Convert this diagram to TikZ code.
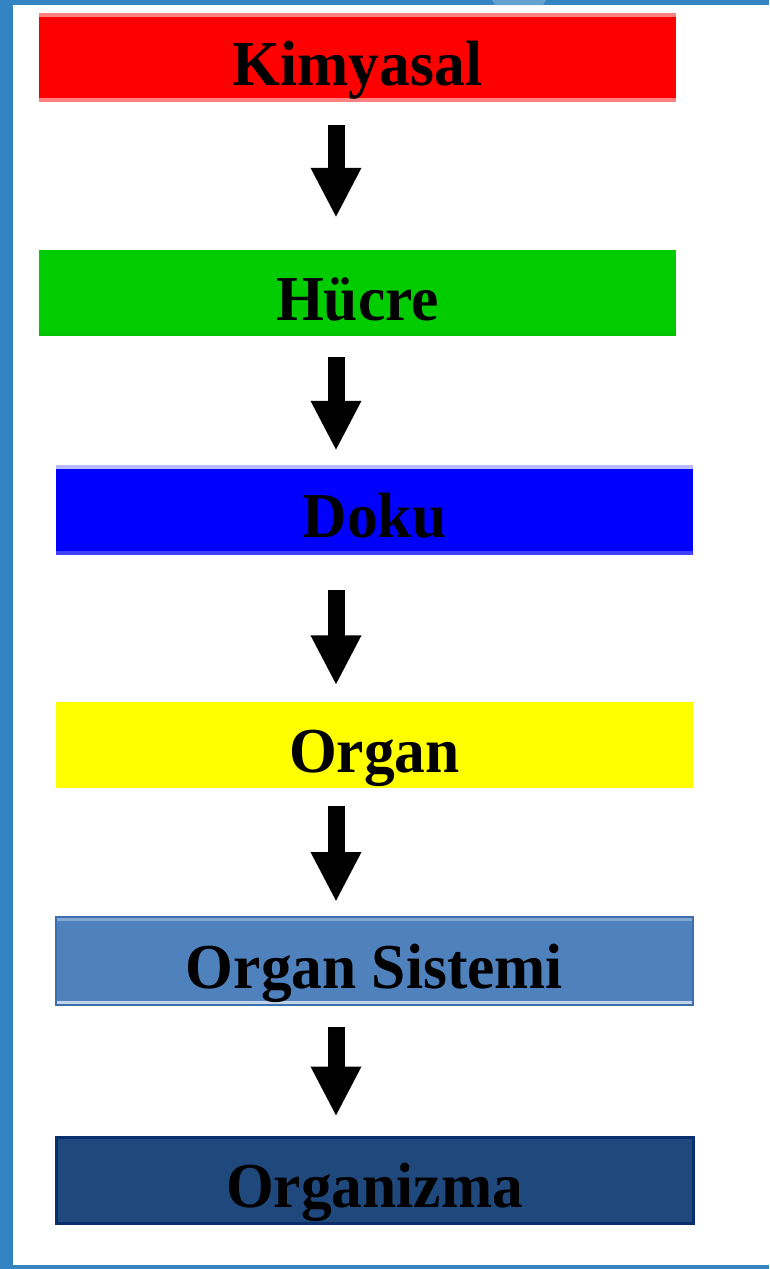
\documentclass[tikz,border=0pt]{standalone}
\usepackage{fontspec}
\setmainfont{Liberation Serif}[FakeStretch=0.96]
\usetikzlibrary{arrows.meta}
\definecolor{framebl}{RGB}{52,132,195}
\definecolor{framelt}{RGB}{100,160,208}
\definecolor{kimred}{RGB}{255,0,0}
\definecolor{hucgreen}{RGB}{0,204,0}
\definecolor{dokublue}{RGB}{0,0,255}
\definecolor{orgyellow}{RGB}{255,255,0}
\definecolor{sisblue}{RGB}{79,129,189}
\definecolor{sisedge}{RGB}{60,110,176}
\definecolor{orgzblue}{RGB}{31,73,125}
\definecolor{orgzedge}{RGB}{8,48,110}
\begin{document}
\begin{tikzpicture}[x=1pt,y=-1pt,
  levelbox/.style={rectangle,minimum width=637pt,inner sep=0pt,
    text height=60pt,text depth=5pt,font=\fontsize{64}{64}\selectfont\bfseries},
  edgestrip/.style 2 args={path picture={
    \fill[#1] (path picture bounding box.north west) rectangle ([yshift=-4pt]path picture bounding box.north east);
    \fill[#2] (path picture bounding box.south west) rectangle ([yshift=4pt]path picture bounding box.south east);}},
  downarrow/.style={line width=17pt,-{Triangle[width=47pt,length=50pt]}}]
\useasboundingbox (0,0) rectangle (769,1269);
\fill [color=white] (0,0) rectangle (769,1269);
\fill [color=framebl] (0,0) rectangle (769,5);
\fill [color=framelt] (492,0) -- (546,0) -- (543,5) -- (495,5) -- cycle;
\fill [color=framebl] (0,0) rectangle (13,1269);
\fill [color=framebl] (0,1265) rectangle (769,1269);
\node [levelbox,fill=kimred,minimum height=89pt,edgestrip={red!50}{red!50}] (kim) at (357.5,57.5) {Kimyasal};
\node [levelbox,fill=hucgreen,minimum height=86pt,edgestrip={hucgreen}{hucgreen!95!black}] (huc) at (357.5,293) {Hücre};
\node [levelbox,fill=dokublue,minimum height=90pt,edgestrip={dokublue!27}{dokublue!75!white}] (dok) at (374.5,510) {Doku};
\node [levelbox,fill=orgyellow,minimum height=86pt] (org) at (374.5,744.5) {Organ};
\node [levelbox,fill=sisblue,minimum height=88pt,draw=sisedge,line width=2pt,edgestrip={sisblue!70!white}{sisblue!35!white}] (sis) at (374.5,961) {Organ Sistemi};
\node [levelbox,fill=orgzblue,minimum height=86pt,draw=orgzedge,line width=3pt] (orz) at (374.5,1180) {Organizma};
\coordinate (ax) at (336,0);
\draw [downarrow,shorten <=23pt,shorten >=32pt] (kim.south -| ax) -- (huc.north -| ax);
\draw [downarrow,shorten <=21pt,shorten >=14pt] (huc.south -| ax) -- (dok.north -| ax);
\draw [downarrow,shorten <=35pt,shorten >=16pt] (dok.south -| ax) -- (org.north -| ax);
\draw [downarrow,shorten <=18pt,shorten >=14pt] (org.south -| ax) -- (sis.north -| ax);
\draw [downarrow,shorten <=21pt,shorten >=19pt] (sis.south -| ax) -- (orz.north -| ax);
\end{tikzpicture}
\end{document}
